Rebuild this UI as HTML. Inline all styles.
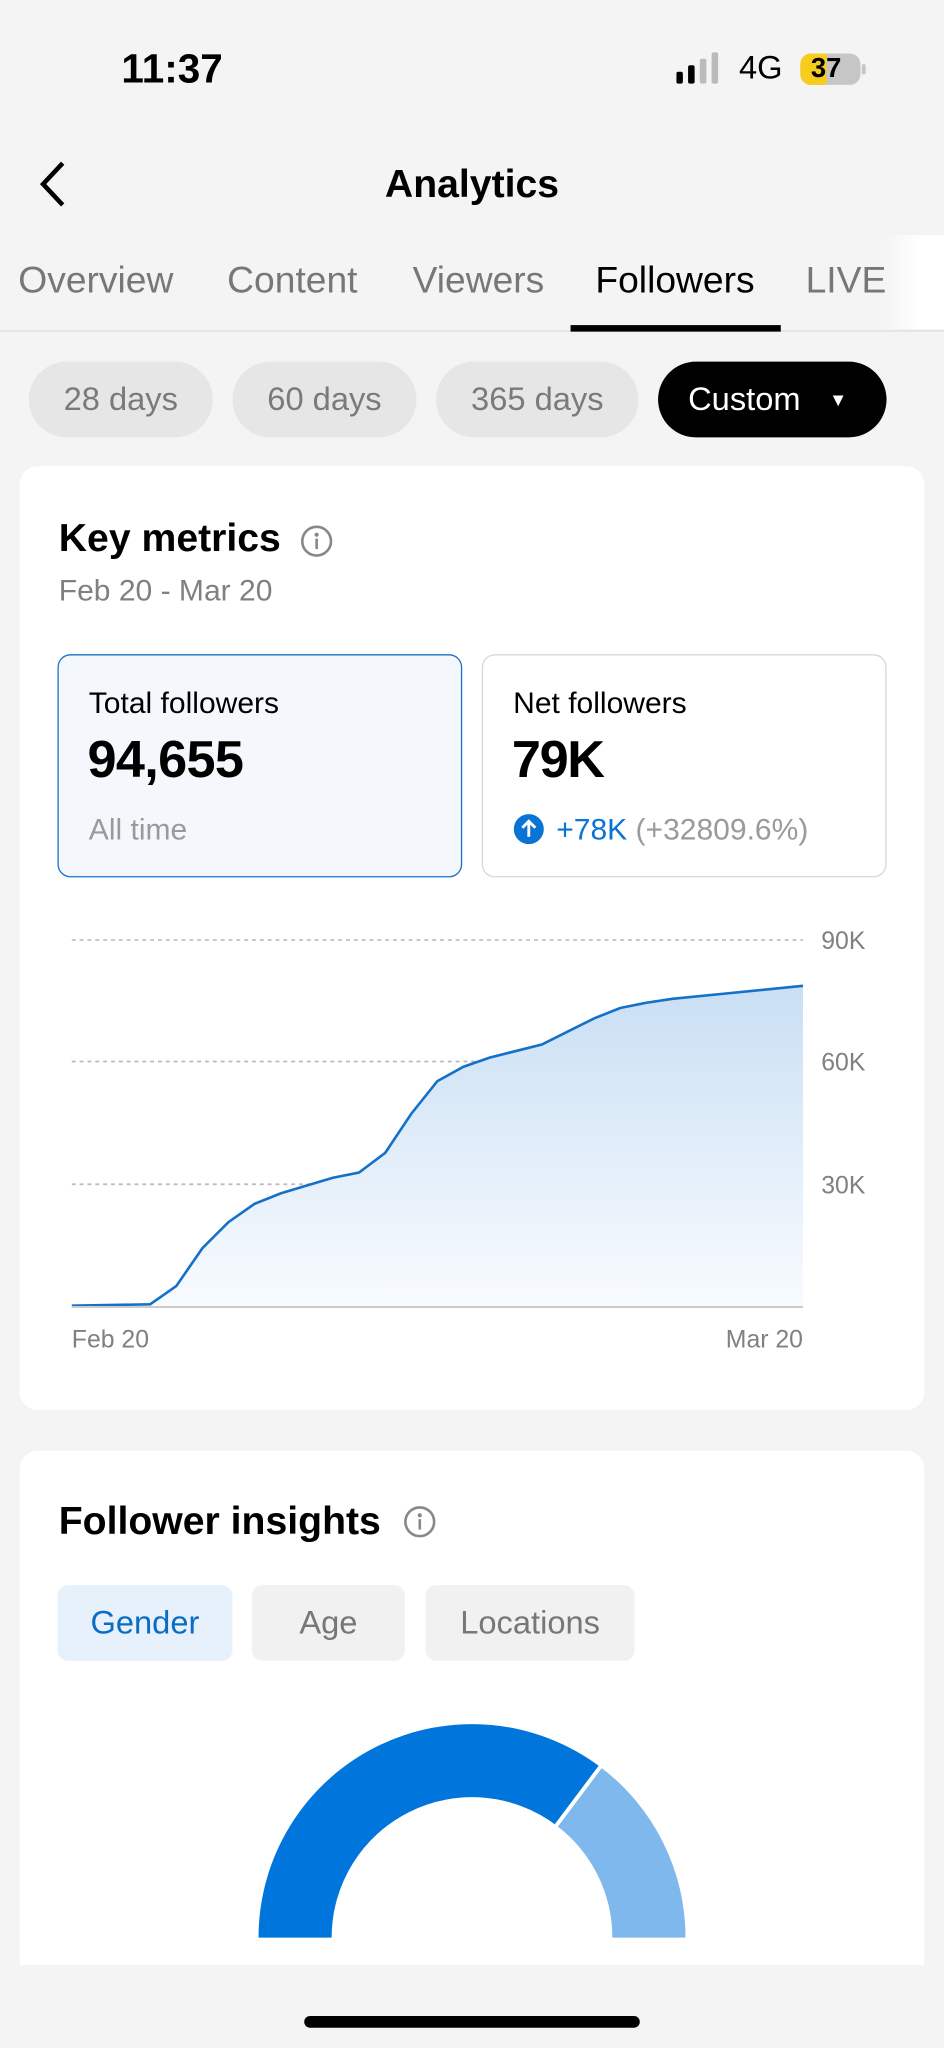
<!DOCTYPE html>
<html><head><meta charset="utf-8">
<style>
html,body{margin:0;padding:0;width:944px;height:2048px;overflow:hidden;background:#f4f4f4;}
#w{position:absolute;left:0;top:0;width:723px;height:1568px;transform:scale(1.30567);transform-origin:0 0;font-family:"Liberation Sans",sans-serif;background:#f4f4f4;}
.a{position:absolute;white-space:nowrap;}
.pill{position:absolute;top:277px;height:58px;border-radius:29px;background:#e6e6e6;color:#7a7a7a;font-size:25px;line-height:58px;text-align:center;}
.tab{position:absolute;top:199px;font-size:28.5px;color:#777;}
.card{position:absolute;left:15px;width:693px;background:#fff;border-radius:14px;}
.seg{position:absolute;top:1214px;height:58px;border-radius:8px;background:#f1f1f1;color:#777;font-size:25px;line-height:58px;text-align:center;}
</style></head><body>
<div id="w">
<div class="a" style="left:93px;top:35px;font-size:31px;font-weight:bold;color:#000;">11:37</div>
<svg class="a" style="left:518px;top:40px" width="150" height="28">
<rect x="0" y="15" width="5" height="9" rx="1.5" fill="#000"/>
<rect x="9" y="10" width="5" height="14" rx="1.5" fill="#000"/>
<rect x="18" y="5" width="5" height="19" rx="1.5" fill="#bbb"/>
<rect x="27" y="0" width="5" height="24" rx="1.5" fill="#bbb"/>
<rect x="95" y="1" width="46" height="24" rx="8" fill="#c6c6c6"/>
<path d="M103 1 H115 V25 H103 A8 8 0 0 1 95 17 V9 A8 8 0 0 1 103 1Z" fill="#f7cc1b"/>
<rect x="142" y="9" width="3" height="8" rx="1.5" fill="#c6c6c6"/>
</svg>
<div class="a" style="left:566px;top:38px;font-size:25px;color:#000;">4G</div>
<div class="a" style="left:621px;top:41px;font-size:21px;font-weight:bold;color:#000;">37</div>
<svg class="a" style="left:28px;top:122px" width="26" height="38"><path d="M20 3 L5 19 L20 35" stroke="#000" stroke-width="3.5" fill="none"/></svg>
<div class="a" style="left:0;width:723px;text-align:center;top:125px;font-size:30px;font-weight:bold;color:#000;">Analytics</div>
<div class="tab" style="left:14px">Overview</div>
<div class="tab" style="left:174px">Content</div>
<div class="tab" style="left:316px">Viewers</div>
<div class="tab" style="left:456px;color:#000">Followers</div>
<div class="tab" style="left:617px">LIVE</div>
<div class="a" style="left:676px;top:180px;width:47px;height:72px;background:linear-gradient(90deg,rgba(255,255,255,0),#fff 60%);"></div>
<div class="a" style="left:0;top:253px;width:723px;height:1px;background:#ddd"></div>
<div class="a" style="left:437px;top:249px;width:161px;height:5px;background:#000"></div>
<div class="pill" style="left:22px;width:141px">28 days</div>
<div class="pill" style="left:178px;width:141px">60 days</div>
<div class="pill" style="left:334px;width:155px">365 days</div>
<div class="pill" style="left:504px;width:175px;background:#000;color:#fff;text-align:left;"><span style="margin-left:23px">Custom</span><span style="position:absolute;left:131px;top:0;font-size:14px">▼</span></div>

<div class="card" style="top:357px;height:723px"></div>
<div class="a" style="left:45px;top:396px;font-size:30px;font-weight:bold;color:#000">Key metrics</div>
<svg class="a" style="left:230px;top:402px" width="26" height="26"><circle cx="12.5" cy="12.5" r="11" stroke="#888" stroke-width="2" fill="none"/><circle cx="12.5" cy="7.5" r="1.6" fill="#888"/><rect x="11.5" y="10.5" width="2" height="8" fill="#888"/></svg>
<div class="a" style="left:45px;top:439px;font-size:23px;color:#808080">Feb 20 - Mar 20</div>
<div class="a" style="left:44px;top:501px;width:308px;height:169px;border:1.5px solid #1a73c7;border-radius:10px;background:#f4f8fc"></div>
<div class="a" style="left:369px;top:501px;width:308px;height:169px;border:1.5px solid #d8d8d8;border-radius:10px;background:#fff"></div>
<div class="a" style="left:68px;top:525px;font-size:23px;color:#000">Total followers</div>
<div class="a" style="left:67px;top:560px;font-size:40px;font-weight:bold;color:#000;letter-spacing:-0.5px">94,655</div>
<div class="a" style="left:68px;top:622px;font-size:23px;color:#9a9a9a">All time</div>
<div class="a" style="left:393px;top:525px;font-size:23px;color:#000">Net followers</div>
<div class="a" style="left:392px;top:560px;font-size:40px;font-weight:bold;color:#000;letter-spacing:-1px">79K</div>
<svg class="a" style="left:393px;top:623px" width="24" height="24"><circle cx="12" cy="12" r="11.5" fill="#0a74d6"/><path d="M12 18 V6 M7 11 L12 6 L17 11" stroke="#fff" stroke-width="2.2" fill="none"/></svg>
<div class="a" style="left:426px;top:622px;font-size:23px;color:#0a74d6">+78K <span style="color:#9a9a9a">(+32809.6%)</span></div>

<svg class="a" style="left:0;top:700px" width="723" height="340">
<defs><linearGradient id="g" x1="0" y1="0" x2="0" y2="1"><stop offset="0" stop-color="#c9dff4"/><stop offset="1" stop-color="#f8fbfe"/></linearGradient></defs>
<g stroke="#bbb" stroke-width="1.3" stroke-dasharray="3,3"><line x1="55" y1="20" x2="615" y2="20"/><line x1="55" y1="113" x2="615" y2="113"/><line x1="55" y1="207" x2="615" y2="207"/></g>
<path d="M55 300 L115 299 L135 285 L155 256 L175 236 L195 222 L215 214 L235 208 L255 202 L275 198 L295 183 L315 153 L335 128 L355 117 L375 110 L395 105 L415 100 L435 90 L455 80 L475 72 L495 68 L515 65 L555 61 L615 55 L615 300 Z" fill="url(#g)"/>
<path d="M55 300 L115 299 L135 285 L155 256 L175 236 L195 222 L215 214 L235 208 L255 202 L275 198 L295 183 L315 153 L335 128 L355 117 L375 110 L395 105 L415 100 L435 90 L455 80 L475 72 L495 68 L515 65 L555 61 L615 55" stroke="#1470c8" stroke-width="2" fill="none"/>
<line x1="55" y1="301" x2="615" y2="301" stroke="#ccc" stroke-width="1.5"/>
<g font-family="Liberation Sans, sans-serif" font-size="19" fill="#808080">
<text x="629" y="27">90K</text><text x="629" y="120">60K</text><text x="629" y="214">30K</text>
<text x="55" y="332">Feb 20</text><text x="615" y="332" text-anchor="end">Mar 20</text></g>
</svg>

<div class="card" style="top:1111px;height:394px;border-radius:14px 14px 0 0"></div>
<div class="a" style="left:45px;top:1149px;font-size:30px;font-weight:bold;color:#000">Follower insights</div>
<svg class="a" style="left:309px;top:1153px" width="26" height="26"><circle cx="12.5" cy="12.5" r="11" stroke="#888" stroke-width="2" fill="none"/><circle cx="12.5" cy="7.5" r="1.6" fill="#888"/><rect x="11.5" y="10.5" width="2" height="8" fill="#888"/></svg>
<div class="seg" style="left:44px;width:134px;background:#e6f1fb;color:#0a6cc4">Gender</div>
<div class="seg" style="left:193px;width:117px">Age</div>
<div class="seg" style="left:326px;width:160px">Locations</div>
<svg class="a" style="left:0;top:1300px" width="723" height="200">
<path d="M198 184 A163.5 163.5 0 0 1 459.9 53.4 L426.2 98.1 A107.5 107.5 0 0 0 254 184 Z" fill="#0075db"/>
<path d="M459.9 53.4 A163.5 163.5 0 0 1 525 184 L469 184 A107.5 107.5 0 0 0 426.2 98.1 Z" fill="#7fb8ec"/>
<line x1="461" y1="51.5" x2="425" y2="99.5" stroke="#fff" stroke-width="3"/>
</svg>
<div class="a" style="left:233px;top:1544px;width:257px;height:9px;border-radius:5px;background:#000"></div>
</div>
</body></html>
